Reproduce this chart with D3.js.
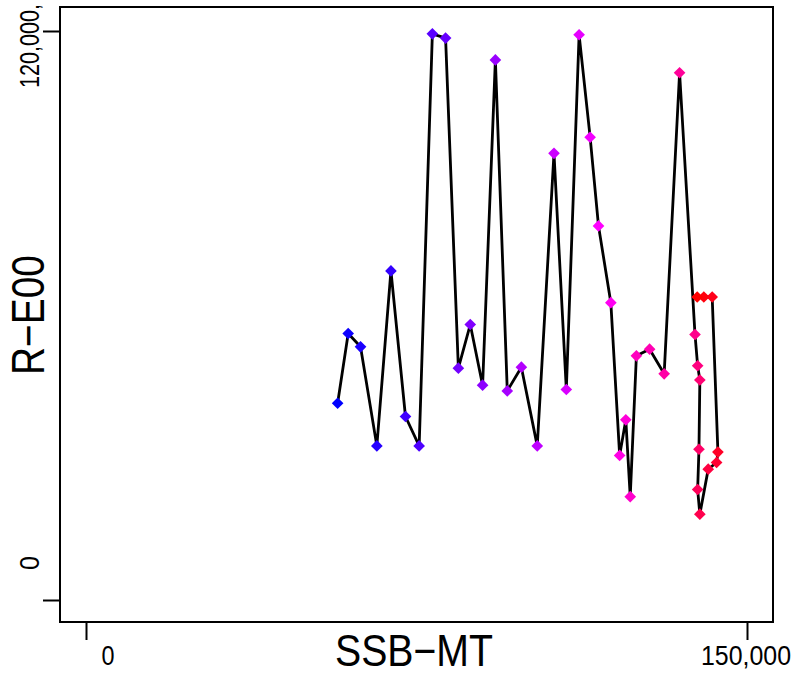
<!DOCTYPE html>
<html>
<head>
<meta charset="utf-8">
<script src="https://d3js.org/d3.v7.min.js"></script>
<style>
  html, body { margin: 0; padding: 0; background: #fff; }
  svg { display: block; font-family: "Liberation Sans", Arial, sans-serif; }
</style>
</head>
<body>
<svg id="chart" width="796" height="673"></svg>
<script>
// Spawning stock biomass (x) and recruitment (y), in time order
const ssb = [57100, 59500, 62300, 66000, 69200, 72500, 75600, 78600, 81600, 84500,
             87200, 90000, 92900, 95600, 98800, 102400, 106200, 109000, 111900, 114400,
             116300, 119100, 121100, 122500, 123500, 124900, 127900, 131200, 134700, 138200,
             138800, 139300, 139100, 138800, 139300, 141200, 143100, 143400, 142100, 140200, 138700];
const rec = [41500, 56200, 53400, 32500, 69400, 38700, 32500, 119400, 118500, 48900,
             58100, 45300, 113900, 44100, 49100, 32500, 94200, 44400, 119200, 97600,
             78900, 62700, 30500, 38000, 21800, 51500, 52900, 47700, 111200, 56000,
             49400, 46400, 31800, 23300, 18100, 27600, 29000, 31200, 63900, 63900, 63900];
const xTickValues = [0, 150000];
const xTickLabels = ["0", "150,000"];
const yTickValues = [0, 120000];
const yTickLabels = ["0", "120,000,"];
const xTitle = "SSB\u2212MT";
const yTitle = "R\u2212E00";
const rampColors = ["blue", "magenta", "red"];

const svg = d3.select("#chart");
const box = {left: 60, top: 7, right: 773, bottom: 622};

const x = d3.scaleLinear().domain([0, 150000]).range([86, 747]);
const y = d3.scaleLinear().domain([0, 120000]).range([600, 31]);

const ramp = d3.piecewise(d3.interpolateRgb, rampColors);
const n = ssb.length;
const pts = ssb.map((v, i) => ({x: v, y: rec[i], c: ramp(i / (n - 1))}));

// plot box
svg.append("rect")
  .attr("x", box.left).attr("y", box.top)
  .attr("width", box.right - box.left).attr("height", box.bottom - box.top)
  .attr("fill", "none").attr("stroke", "#000").attr("stroke-width", 2);

// x axis (ticks only, labels drawn separately)
const xAxis = d3.axisBottom(x).tickValues(xTickValues).tickSize(18).tickFormat("");
const gx = svg.append("g").attr("transform", `translate(0,${box.bottom})`).call(xAxis);
gx.select(".domain").remove();
gx.selectAll(".tick line").attr("stroke", "#000").attr("stroke-width", 2);

const yAxis = d3.axisLeft(y).tickValues(yTickValues).tickSize(17).tickFormat("");
const gy = svg.append("g").attr("transform", `translate(${box.left},0)`).call(yAxis);
gy.select(".domain").remove();
gy.selectAll(".tick line").attr("stroke", "#000").attr("stroke-width", 2);

// x tick labels
const xLabelPos = [x(xTickValues[0]) + 22, x(xTickValues[1]) - 1];
const xLabelLen = [13, 90];
xTickLabels.forEach((t, i) => {
  svg.append("text")
    .attr("x", xLabelPos[i]).attr("y", 665)
    .attr("text-anchor", "middle")
    .attr("font-size", 28)
    .attr("textLength", xLabelLen[i]).attr("lengthAdjust", "spacingAndGlyphs")
    .text(t);
});

// y tick labels (rotated)
const yLabelPos = [y(yTickValues[0]) - 37, 46];
const yLabelLen = [14, 84];
yTickLabels.forEach((t, i) => {
  svg.append("text")
    .attr("transform", `translate(39,${yLabelPos[i]}) rotate(-90)`)
    .attr("text-anchor", "middle")
    .attr("font-size", 28)
    .attr("textLength", yLabelLen[i]).attr("lengthAdjust", "spacingAndGlyphs")
    .text(t);
});

// axis titles
svg.append("text")
  .attr("x", 414).attr("y", 666)
  .attr("text-anchor", "middle")
  .attr("font-size", 44)
  .attr("textLength", 158).attr("lengthAdjust", "spacingAndGlyphs")
  .text(xTitle);

svg.append("text")
  .attr("transform", "translate(44,315) rotate(-90)")
  .attr("text-anchor", "middle")
  .attr("font-size", 46)
  .attr("textLength", 120).attr("lengthAdjust", "spacingAndGlyphs")
  .text(yTitle);

// connecting line
const line = d3.line().x(d => x(d.x)).y(d => y(d.y));
svg.append("path")
  .datum(pts)
  .attr("d", line)
  .attr("fill", "none")
  .attr("stroke", "#000")
  .attr("stroke-width", 2.8)
  .attr("stroke-linejoin", "round");

// diamond markers
svg.append("g").selectAll("path")
  .data(pts)
  .join("path")
  .attr("transform", d => `translate(${x(d.x)},${y(d.y)}) rotate(45)`)
  .attr("d", d3.symbol().type(d3.symbolSquare).size(68))
  .attr("fill", d => d.c);
</script>
</body>
</html>
